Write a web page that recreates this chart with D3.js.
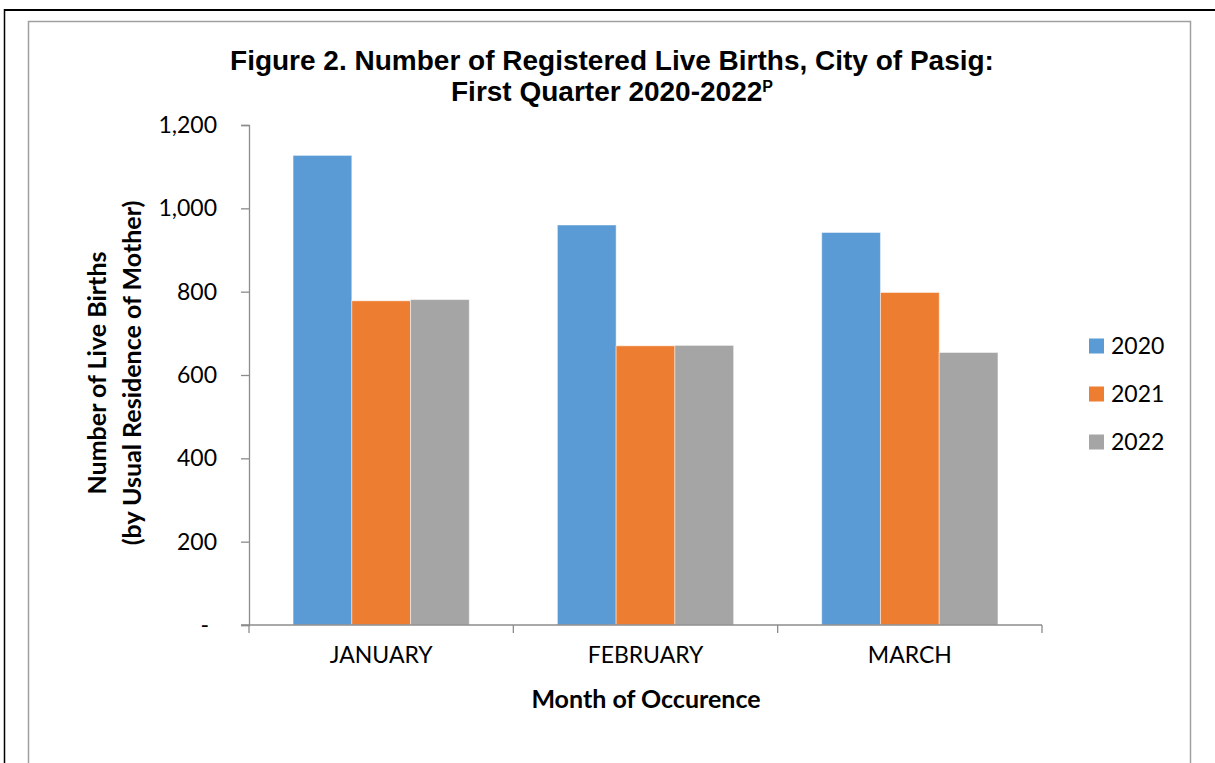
<!DOCTYPE html>
<html>
<head>
<meta charset="utf-8">
<script src="https://cdn.jsdelivr.net/npm/d3@7"></script>
<style>
  body { margin: 0; background: #fff; }
  svg { display: block; }
</style>
</head>
<body>
<script>
const width = 1215;
const height = 763;

const months = ["JANUARY", "FEBRUARY", "MARCH"];
const years = ["2020", "2021", "2022"];
const births2020 = [1127, 960, 942];
const births2021 = [778, 670, 798];
const births2022 = [781, 671, 654];
const yTicks = [0, 200, 400, 600, 800, 1000, 1200];
const colors = ["#5B9BD5", "#ED7D31", "#A5A5A5"];

const series = [births2020, births2021, births2022];
const rows = [];
months.forEach((m, i) => {
  years.forEach((yr, j) => {
    rows.push({ month: m, year: yr, value: series[j][i] });
  });
});

const svg = d3
  .select("body")
  .append("svg")
  .attr("width", width)
  .attr("height", height);

// page frame (black) and chart area (gray)
svg.append("line")
  .attr("x1", 4).attr("x2", width).attr("y1", 10).attr("y2", 10)
  .attr("stroke", "#000").attr("stroke-width", 2);
svg.append("line")
  .attr("x1", 4.5).attr("x2", 4.5).attr("y1", 9).attr("y2", height)
  .attr("stroke", "#000").attr("stroke-width", 1.5);
svg.append("rect")
  .attr("x", 28.5).attr("y", 21.5)
  .attr("width", 1162).attr("height", 800)
  .attr("fill", "none")
  .attr("stroke", "#a0a0a0").attr("stroke-width", 1.5);

// title
const title = svg.append("text")
  .attr("text-anchor", "middle")
  .style("font-family", "'Liberation Sans', Arial, sans-serif")
  .style("font-weight", "bold")
  .style("font-size", "28px")
  .attr("fill", "#000");
title.append("tspan").attr("x", 612).attr("y", 70)
  .text("Figure 2. Number of Registered Live Births, City of Pasig:");
const t2 = title.append("tspan").attr("x", 612).attr("y", 101);
t2.append("tspan").text("First Quarter 2020-2022");
t2.append("tspan").attr("dy", -9).style("font-size", "16px").text("P");

const x = d3.scaleBand()
  .domain(months)
  .range([249, 1042])
  .paddingInner(1 / 3)
  .paddingOuter(1 / 6);

const xInner = d3.scaleBand()
  .domain(years)
  .range([0, x.bandwidth()]);

const y = d3.scaleLinear()
  .domain([0, 1200])
  .range([625, 125]);

const font = "Lato, 'Open Sans', sans-serif";
const axisColor = "#8c8c8c";

// y axis
const yAxis = d3.axisLeft(y)
  .tickValues(yTicks)
  .tickSize(8)
  .tickPadding(24)
  .tickFormat((d) => (d === 0 ? "-" : d3.format(",")(d)));

const gy = svg.append("g")
  .attr("transform", "translate(249,0)")
  .call(yAxis);
gy.select(".domain").attr("stroke", axisColor).attr("stroke-width", 1.3);
gy.selectAll(".tick line").attr("stroke", axisColor).attr("stroke-width", 1.3);
gy.selectAll(".tick text")
  .style("font-family", font)
  .style("font-size", "23px")
  .attr("fill", "#000");
gy.selectAll(".tick text").filter((d) => d === 0).attr("dx", -8);

// bars
svg.append("g")
  .selectAll("rect")
  .data(rows)
  .enter()
  .append("rect")
  .attr("x", (d) => x(d.month) + xInner(d.year))
  .attr("y", (d) => y(d.value))
  .attr("width", xInner.bandwidth())
  .attr("height", (d) => y(0) - y(d.value))
  .attr("fill", (d) => colors[years.indexOf(d.year)])
  .attr("stroke", "rgba(255,255,255,0.45)")
  .attr("stroke-width", 1);

// x axis
const xAxis = d3.axisBottom(x).tickSize(0).tickPadding(22);
const gx = svg.append("g")
  .attr("transform", "translate(0,625)")
  .call(xAxis);
gx.select(".domain").remove();
gx.selectAll(".tick text")
  .style("font-family", font)
  .style("font-size", "23px")
  .attr("fill", "#000");

svg.append("line")
  .attr("x1", 241).attr("x2", 1042).attr("y1", 625).attr("y2", 625)
  .attr("stroke", axisColor).attr("stroke-width", 1.3);

const edges = months.map((m) => x(m) - (x.step() - x.bandwidth()) / 2);
edges.push(x.range()[1]);
svg.append("g")
  .selectAll("line")
  .data(edges)
  .enter()
  .append("line")
  .attr("x1", (d) => d).attr("x2", (d) => d)
  .attr("y1", 625).attr("y2", 633)
  .attr("stroke", axisColor).attr("stroke-width", 1.3);

// axis titles
svg.append("text")
  .attr("x", 646).attr("y", 708)
  .attr("text-anchor", "middle")
  .style("font-family", font)
  .style("font-weight", "bold")
  .style("font-size", "25px")
  .text("Month of Occurence");

const yTitle = svg.append("text")
  .attr("transform", "translate(0,373) rotate(-90)")
  .attr("text-anchor", "middle")
  .style("font-family", font)
  .style("font-weight", "bold")
  .style("font-size", "25px");
yTitle.append("tspan").attr("x", 0).attr("y", 106).text("Number of Live Births");
yTitle.append("tspan").attr("x", 0).attr("y", 141).text("(by Usual Residence of Mother)");

// legend
const legend = svg.append("g")
  .selectAll("g")
  .data(years)
  .enter()
  .append("g")
  .attr("transform", (d, i) => `translate(1089,${346 + i * 48})`);
legend.append("rect")
  .attr("x", 0).attr("y", -7.5)
  .attr("width", 15).attr("height", 15)
  .attr("fill", (d, i) => colors[i]);
legend.append("text")
  .attr("x", 22).attr("y", 0)
  .attr("dy", "0.36em")
  .style("font-family", font)
  .style("font-size", "23px")
  .text((d) => d);
</script>
</body>
</html>
